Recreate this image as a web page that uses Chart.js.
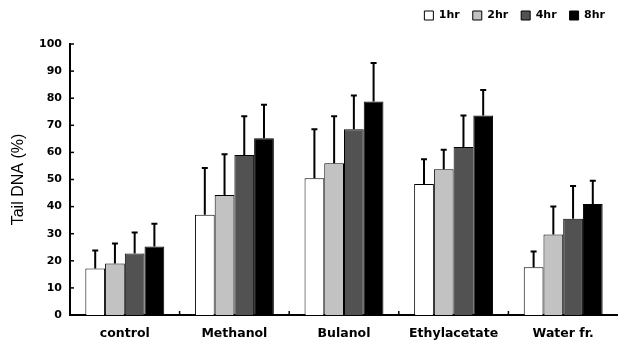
<!DOCTYPE html>
<html>
<head>
<meta charset="utf-8">
<script src="https://cdn.jsdelivr.net/npm/chart.js@4/dist/chart.umd.min.js"></script>
<style>
  html, body { margin: 0; padding: 0; background: #fff; }
  #wrap { width: 618px; height: 343px; }
</style>
</head>
<body>
<div id="wrap"><canvas id="chart"></canvas></div>
<script>
const categories = ["control", "Methanol", "Bulanol", "Ethylacetate", "Water fr."];
const seriesNames = ["1hr", "2hr", "4hr", "8hr"];
const hr1 = [17.2, 37.0, 50.5, 48.3, 17.6];
const hr2 = [19.0, 44.3, 56.0, 53.8, 29.7];
const hr4 = [22.7, 59.0, 68.5, 62.0, 35.5];
const hr8 = [25.3, 65.2, 78.8, 73.6, 41.0];
// upper end of each error bar
const err1 = [23.8, 54.2, 68.5, 57.5, 23.4];
const err2 = [26.4, 59.3, 73.3, 61.0, 40.0];
const err4 = [30.4, 73.3, 81.0, 73.6, 47.6];
const err8 = [33.7, 77.6, 93.0, 83.0, 49.5];
const yTicks = [0, 10, 20, 30, 40, 50, 60, 70, 80, 90, 100];

const fills = ["#ffffff", "#c2c2c2", "#525252", "#000000"];
const values = [hr1, hr2, hr4, hr8];
const errors = [err1, err2, err4, err8];

// error bars + inward tick marks
const extras = {
  id: "extras",
  afterDatasetsDraw(chart) {
    const ctx = chart.ctx;
    const y = chart.scales.y;
    const x = chart.scales.x;
    ctx.save();
    ctx.strokeStyle = "#000";
    ctx.lineWidth = 2;
    chart.data.datasets.forEach((ds, i) => {
      const meta = chart.getDatasetMeta(i);
      meta.data.forEach((bar, j) => {
        const top = y.getPixelForValue(errors[i][j]);
        ctx.beginPath();
        ctx.moveTo(bar.x, bar.y);
        ctx.lineTo(bar.x, top);
        ctx.moveTo(bar.x - 3, top);
        ctx.lineTo(bar.x + 3, top);
        ctx.stroke();
      });
    });
    ctx.lineWidth = 1.5;
    yTicks.forEach(v => {
      const py = y.getPixelForValue(v);
      ctx.beginPath();
      ctx.moveTo(chart.chartArea.left, py);
      ctx.lineTo(chart.chartArea.left + 4, py);
      ctx.stroke();
    });
    for (let k = 1; k < categories.length; k++) {
      const px = (x.getPixelForTick(k - 1) + x.getPixelForTick(k)) / 2;
      ctx.beginPath();
      ctx.moveTo(px, chart.chartArea.bottom);
      ctx.lineTo(px, chart.chartArea.bottom - 4);
      ctx.stroke();
    }
    ctx.restore();
  }
};

const legendSpace = {
  id: "legendSpace",
  beforeInit(chart) {
    const fit = chart.legend.fit;
    chart.legend.fit = function () {
      fit.bind(chart.legend)();
      this.height += 13;
    };
  }
};

new Chart(document.getElementById("chart"), {
  type: "bar",
  data: {
    labels: categories,
    datasets: seriesNames.map((name, i) => ({
      label: name,
      data: values[i],
      backgroundColor: fills[i],
      borderColor: "#000",
      borderWidth: 1,
      categoryPercentage: 0.72,
      barPercentage: 1
    }))
  },
  options: {
    responsive: true,
    maintainAspectRatio: false,
    animation: false,
    layout: { padding: { left: 0, right: 0, top: -3, bottom: 0 } },
    plugins: {
      legend: {
        position: "top",
        align: "end",
        labels: {
          color: "#000",
          boxWidth: 9,
          boxHeight: 9,
          padding: 13,
          font: { family: "DejaVu Sans", weight: "bold", size: 11 }
        }
      },
      tooltip: { enabled: false }
    },
    scales: {
      x: {
        grid: { display: false, drawTicks: false },
        border: { color: "#000", width: 2 },
        ticks: {
          color: "#000",
          padding: 11,
          font: { family: "DejaVu Sans", weight: "bold", size: 12.5 }
        },
        afterFit(scale) { scale.height = 28; }
      },
      y: {
        min: 0,
        max: 100,
        grid: { display: false, drawTicks: false },
        border: { color: "#000", width: 2 },
        ticks: {
          stepSize: 10,
          color: "#000",
          padding: 8,
          font: { family: "DejaVu Sans", weight: "bold", size: 11 }
        },
        title: {
          display: true,
          text: "Tail DNA (%)",
          color: "#000",
          padding: { top: 9, bottom: 0 },
          font: { family: "Liberation Sans", size: 16 }
        },
        afterFit(scale) { scale.width = 70; }
      }
    }
  },
  plugins: [extras, legendSpace]
});
</script>
</body>
</html>
